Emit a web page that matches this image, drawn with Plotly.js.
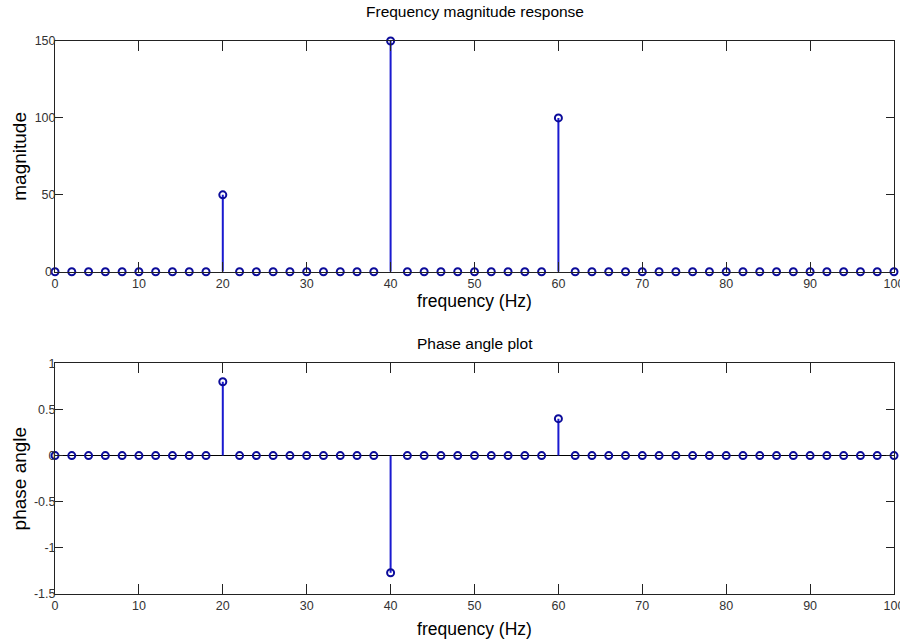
<!DOCTYPE html>
<html>
<head>
<meta charset="utf-8">
<script src="https://cdn.plot.ly/plotly-3.0.1.min.js"></script>
<style>html,body{margin:0;padding:0;background:#fff;}#plot{width:900px;height:641px;}</style>
</head>
<body>
<div id="plot"></div>
<script>
// Frequency bins (Hz)
const freq = [0,2,4,6,8,10,12,14,16,18,20,22,24,26,28,30,32,34,36,38,40,42,44,46,48,50,52,54,56,58,60,62,64,66,68,70,72,74,76,78,80,82,84,86,88,90,92,94,96,98,100];
// Nonzero spectral lines
const peakFreq = [20, 40, 60];
const peakMagnitude = [50, 150, 100];
const peakPhase = [0.8, -1.27, 0.4];
const xTicks = [0,10,20,30,40,50,60,70,80,90,100];
const magTicks = [0,50,100,150];
const phaseTicks = [-1.5,-1,-0.5,0,0.5,1];

function seriesFor(peaks) {
  return freq.map(f => { const i = peakFreq.indexOf(f); return i >= 0 ? peaks[i] : 0; });
}
const magnitude = seriesFor(peakMagnitude);
const phase = seriesFor(peakPhase);

function stems(ys) {
  const sx = [], sy = [];
  freq.forEach((f, i) => { if (ys[i] !== 0) { sx.push(f, f, null); sy.push(0, ys[i], null); } });
  return {x: sx, y: sy};
}

const stemColor = '#1a1ad0';
const markerColor = '#0c0c9a';
const tickFont = {family: '"Liberation Sans Narrow", "Arial Narrow", "Liberation Sans", Arial, sans-serif', size: 12.5, color: '#333'};
const labelFont = {family: '"Liberation Sans", Arial, sans-serif', size: 17.5, color: '#000'};
const yLabelFont = {family: '"Liberation Sans", Arial, sans-serif', size: 19, color: '#000'};

const sm = stems(magnitude), sp = stems(phase);
const traces = [
  {x: sm.x, y: sm.y, xaxis: 'x', yaxis: 'y', mode: 'lines', line: {color: stemColor, width: 2}, hoverinfo: 'skip', cliponaxis: false},
  {x: freq, y: magnitude, xaxis: 'x', yaxis: 'y', mode: 'markers', marker: {symbol: 'circle-open', size: 7, color: markerColor, line: {width: 2, color: markerColor}}, cliponaxis: false},
  {x: sp.x, y: sp.y, xaxis: 'x2', yaxis: 'y2', mode: 'lines', line: {color: stemColor, width: 2}, hoverinfo: 'skip', cliponaxis: false},
  {x: freq, y: phase, xaxis: 'x2', yaxis: 'y2', mode: 'markers', marker: {symbol: 'circle-open', size: 7, color: markerColor, line: {width: 2, color: markerColor}}, cliponaxis: false}
];

function xaxis(anchor, standoff) {
  return {anchor: anchor, range: [0, 100], tickvals: xTicks, ticktext: xTicks.map(String), ticks: 'inside', ticklen: 10, tickcolor: '#222',
    showline: true, mirror: 'ticks', linecolor: '#222', linewidth: 1, showgrid: false, zeroline: false, ticklabeloverflow: 'allow',
    tickfont: tickFont, title: {text: 'frequency (Hz)', font: labelFont, standoff: standoff}};
}
function yaxis(anchor, range, ticks, title, domain, zl, blankFirst) {
  return {anchor: anchor, domain: domain, range: range, tickvals: ticks,
    ticktext: ticks.map((v, i) => (blankFirst && i === 0) ? '' : String(v)), ticks: 'inside', ticklen: 8, tickcolor: '#222',
    showline: true, mirror: 'ticks', linecolor: '#222', linewidth: 1, showgrid: false,
    zeroline: zl, zerolinecolor: '#000', zerolinewidth: 1.5, ticklabelstandoff: -4, ticklabeloverflow: 'allow',
    tickfont: tickFont, title: {text: title, font: yLabelFont, standoff: 2}};
}

const layout = {
  width: 900, height: 641,
  margin: {l: 54.5, r: 6, t: 41, b: 47},
  paper_bgcolor: '#fff', plot_bgcolor: '#fff',
  showlegend: false,
  xaxis: xaxis('y', 5),
  yaxis: yaxis('x', [0, 150], magTicks, 'magnitude', [0.5828, 1], false, true),
  xaxis2: xaxis('y2', 10),
  yaxis2: yaxis('x2', [-1.5, 1], phaseTicks, 'phase angle', [0, 0.4172], true, false),
  annotations: [
    {text: 'Frequency magnitude response', xref: 'paper', yref: 'paper', x: 0.5, y: 1, yanchor: 'bottom', yshift: 19, showarrow: false,
     font: {family: '"Liberation Sans", Arial, sans-serif', size: 15.5, color: '#000'}},
    {text: 'Phase angle plot', xref: 'paper', yref: 'paper', x: 0.5, y: 0.4172, yanchor: 'bottom', yshift: 9, showarrow: false,
     font: {family: '"Liberation Sans", Arial, sans-serif', size: 15.5, color: '#000'}},
    // y tick label "0" of the magnitude axis (Plotly hides it at the axis corner)
    {text: String(magTicks[0]), xref: 'x', yref: 'y', x: xTicks[0], y: magTicks[0], xanchor: 'right', yanchor: 'middle', xshift: -1, showarrow: false,
     font: tickFont}
  ]
};

Plotly.newPlot('plot', traces, layout, {staticPlot: true, displayModeBar: false});
</script>
</body>
</html>
